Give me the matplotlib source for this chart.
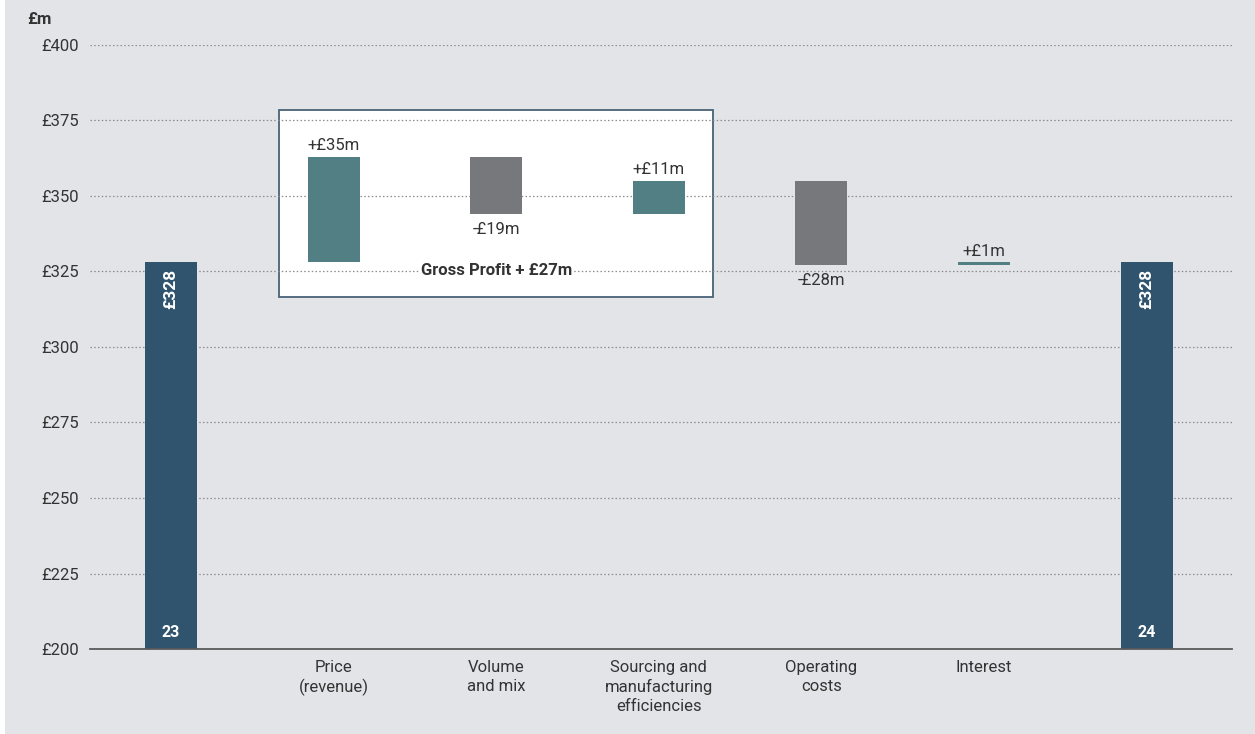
import matplotlib.pyplot as plt
from matplotlib.patches import Rectangle

plt.rcParams['font.family'] = ['Roboto', 'DejaVu Sans']

# bridge from year 23 to year 24 profit, £m
categories = ['', 'Price\n(revenue)', 'Volume\nand mix',
              'Sourcing and\nmanufacturing\nefficiencies',
              'Operating\ncosts', 'Interest', '']
start_value = 328
end_value = 328
changes = [35, -19, 11, -28, 1]
change_labels = ['+£35m', '-£19m', '+£11m', '-£28m', '+£1m']
total_labels = ['23', '24']
gross_profit_label = 'Gross Profit + £27m'
yticks = [200, 225, 250, 275, 300, 325, 350, 375, 400]

bg = '#e3e4e8'
navy = '#31546e'
teal = '#527f84'
grey = '#77787c'
txt = '#333333'

fig = plt.figure(figsize=(12.55, 7.34), dpi=100, facecolor=bg)
ax = fig.add_axes([0.0717, 0.1158, 0.9100, 0.8229])
ax.set_facecolor(bg)
fig.patches.append(Rectangle((0, 0), 5 / 1255, 1, transform=fig.transFigure,
                             facecolor='white', edgecolor='none', zorder=-1))

width = 0.32
base = 200

# totals
for i, (pos, val) in enumerate([(0, start_value), (6, end_value)]):
    ax.bar(pos, val - base, bottom=base, width=width, color=navy, zorder=3)
    ax.text(pos, val - 2, f'£{val}', rotation=90, ha='center', va='top',
            color='white', fontsize=12.5, fontweight='bold', zorder=4)
    ax.text(pos, 205.5, total_labels[i], ha='center', va='center',
            color='white', fontsize=11.5, fontweight='bold', zorder=4)

# floating change bars
level = start_value
for i, ch in enumerate(changes):
    pos = i + 1
    lo = min(level, level + ch)
    h = abs(ch)
    col = teal if ch > 0 else grey
    ax.bar(pos, h, bottom=lo, width=width, color=col, zorder=3)
    if ch > 0:
        ax.text(pos, lo + h + 1.2, change_labels[i], ha='center', va='bottom',
                fontsize=12, color=txt, zorder=4)
    else:
        ax.text(pos, lo - 2.6, change_labels[i], ha='center', va='top',
                fontsize=12, color=txt, zorder=4)
    level += ch

# gross profit box
ax.add_patch(Rectangle((0.664, 316.6), 3.333 - 0.664, 378.5 - 316.6,
                       facecolor='white', edgecolor='#4a6276', linewidth=1.3,
                       zorder=0.3))
ax.text(2.0, 325.2, gross_profit_label, ha='center', va='center',
        fontsize=12, fontweight='bold', color=txt, zorder=4,
        bbox=dict(facecolor='white', edgecolor='none', pad=1))

ax.set_xlim(-0.498, 6.525)
ax.set_ylim(200, 400)
ax.set_yticks(yticks)
ax.set_yticklabels([f'£{v}' for v in yticks], fontsize=12, color=txt)
ax.set_xticks(range(len(categories)))
ax.set_xticklabels(categories, fontsize=12, color=txt, va='top',
                   linespacing=1.3)
ax.tick_params(axis='both', length=0)
ax.tick_params(axis='y', pad=8)
ax.tick_params(axis='x', pad=8)

ax.set_axisbelow(True)
ax.yaxis.grid(True, linestyle=(0, (1.2, 1.8)), color='#8c8c8c', linewidth=0.9)
for s in ['top', 'right', 'left']:
    ax.spines[s].set_visible(False)
ax.spines['bottom'].set_color('#5a5a5a')
ax.spines['bottom'].set_linewidth(1.3)
ax.spines['bottom'].set_zorder(5)

fig.text(27 / 1255, 1 - 19 / 734, '£m', fontsize=12, fontweight='bold',
         color=txt, ha='left', va='center')

fig.savefig('out.png', dpi=100, facecolor=bg)
